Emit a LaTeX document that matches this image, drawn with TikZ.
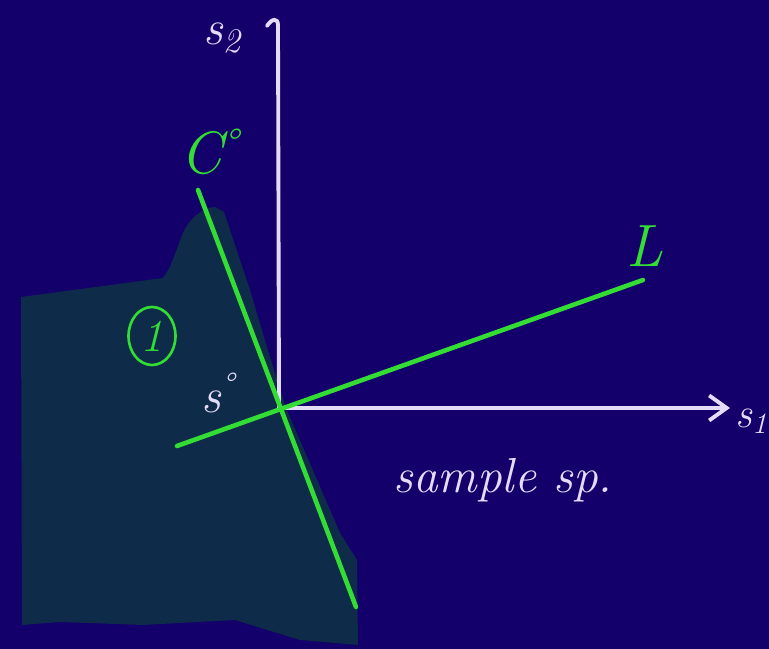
\documentclass[tikz,border=0pt]{standalone}
\usepackage{fontspec}
\usetikzlibrary{arrows.meta,shapes.geometric}
\definecolor{boardblue}{HTML}{14006B}
\definecolor{regionteal}{HTML}{0E2B4A}
\definecolor{chalkwhite}{HTML}{E4DCF8}
\definecolor{chalkgreen}{HTML}{33DD33}

\begin{document}
\begin{tikzpicture}[
    x=0.02cm, y=0.02cm,
    axis/.style={line width=2.2pt, chalkwhite, line cap=round},
    setline/.style={line width=2.6pt, chalkgreen, line cap=round},
    whitelabel/.style={text=chalkwhite, font=\fontsize{28}{32}\selectfont\itshape, inner sep=0pt},
    greenlabel/.style={text=chalkgreen, font=\fontsize{34}{38}\selectfont\itshape, inner sep=0pt}
]

% Board
\fill[boardblue] (0,0) rectangle (769,649);
\useasboundingbox (0,0) rectangle (769,649);

% Shaded region
\fill[regionteal] (21,352) -- (163,371) -- (170,382) -- (183,416)
    .. controls (190,432) and (205,442) .. (215,442)
    -- (224,437) -- (250,359) -- (270,292) -- (286,241) -- (340,116)
    -- (357,89) -- (358,4) -- (300,9) -- (235,29) -- (143,24)
    -- (60,27) -- (22,24) -- cycle;

% Points
\coordinate (O) at (279,241);
\coordinate (s2top) at (278,624);
\coordinate (hook) at (267,623);
\coordinate (s1end) at (730,241);
\coordinate (Ctop) at (198,459);
\coordinate (Cbot) at (356,42);
\coordinate (Lleft) at (177,203);
\coordinate (Lright) at (643,369);

% Axes
\draw[axis] (O) -- (s2top) .. controls (278,631) and (272,631) .. (hook);
\draw[axis,-{Straight Barb[length=3.5mm,width=5mm]}] (O) -- (s1end);

% Lines C and L
\draw[setline] (Ctop) -- (Cbot);
\draw[setline] (Lleft) -- (Lright);

% Labels
\node[whitelabel] (s2lab) at (222,611) {s\textsubscript{2}};
\node[whitelabel, anchor=west, font=\fontsize{24}{28}\selectfont\itshape] (s1lab) at (735,228) {s\textsubscript{1}};
\node[greenlabel] (Clab) at (210,497) {C\textsuperscript{°}};
\node[greenlabel] (Llab) at (645,403) {L};
\node[whitelabel] (s0lab) at (218,256) {s\textsuperscript{°}};
\node[whitelabel] (samplelab) at (503,169) {sample sp.};
\node[draw=chalkgreen, line width=1.5pt, ellipse, minimum width=0.94cm,
      minimum height=1.16cm, inner sep=0pt, text=chalkgreen,
      font=\fontsize{26}{30}\selectfont\itshape] (setone) at (152,313) {1};

\end{tikzpicture}
\end{document}
